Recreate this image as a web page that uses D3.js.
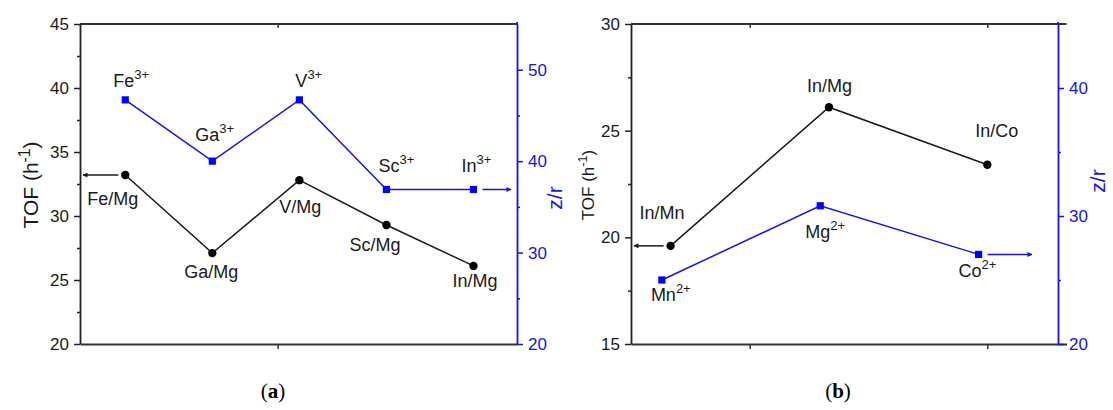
<!DOCTYPE html>
<html>
<head>
<meta charset="utf-8">
<title>TOF vs z/r</title>
<style>
  body { margin: 0; background: #fff; }
  svg text { font-family: "Liberation Sans", Arial, sans-serif; }
  .caption { font-family: "Liberation Serif", "Times New Roman", serif; }
</style>
</head>
<body>
<div id="chart"></div>
<script src="https://d3js.org/d3.v7.min.js"></script>
<script>
// ---- data: panel (a) ----
var aSamples = ["Fe/Mg", "Ga/Mg", "V/Mg", "Sc/Mg", "In/Mg"];
var aIons = ["Fe", "Ga", "V", "Sc", "In"];
var aCharge = "3+";
var aX = [1, 2, 3, 4, 5];
var aTof = [33.2, 27.1, 32.8, 29.3, 26.1];
var aZr = [46.7, 40.0, 46.7, 36.9, 36.9];
var aLeftTicks = [20, 25, 30, 35, 40, 45];
var aLeftMinor = [22.5, 27.5, 32.5, 37.5, 42.5];
var aRightTicks = [20, 30, 40, 50];
var aRightMinor = [25, 35, 45];
var aXTicks = [2.75];

// ---- data: panel (b) ----
var bSamples = ["In/Mn", "In/Mg", "In/Co"];
var bIons = ["Mn", "Mg", "Co"];
var bCharge = "2+";
var bX = [1, 2, 3];
var bZrX = [0.945, 1.945, 2.945];
var bTof = [19.6, 26.1, 23.4];
var bZr = [25.0, 30.8, 27.0];
var bLeftTicks = [15, 20, 25, 30];
var bLeftMinor = [17.5, 22.5, 27.5];
var bRightTicks = [20, 30, 40];
var bRightMinor = [25, 35];
var bXTicks = [1.5, 3];

var BLUE = "#1414e6";
var INK = "#1a1a1a";

var svg = d3.select("#chart").append("svg")
    .attr("width", 1113)
    .attr("height", 410);

// arrow heads
var defs = svg.append("defs");
[["arrBlack", INK], ["arrBlue", BLUE]].forEach(function (m) {
    defs.append("marker")
        .attr("id", m[0])
        .attr("viewBox", "0 0 10 10")
        .attr("refX", 9).attr("refY", 5)
        .attr("markerWidth", 8).attr("markerHeight", 5)
        .attr("markerUnits", "userSpaceOnUse")
        .attr("orient", "auto")
        .append("path")
        .attr("d", "M0,0 L10,5 L0,10 Z")
        .attr("fill", m[1]);
});

function addIon(text, base, charge) {
    text.append("tspan").text(base);
    text.append("tspan").attr("dy", -8).attr("font-size", 13).text(charge);
}

function drawPanel(p) {
    var g = svg.append("g");
    var x = d3.scaleLinear().domain(p.xDomain).range([p.left, p.frameRight]);
    var y = d3.scaleLinear().domain(p.yDomain).range([344, 24]);
    var y2 = d3.scaleLinear().domain(p.y2Domain).range([344, 24]);

    // top frame line
    g.append("line")
        .attr("x1", p.left).attr("x2", p.frameRight)
        .attr("y1", 24).attr("y2", 24)
        .attr("stroke", "#333").attr("stroke-width", 1.8);

    // top ticks (inward)
    g.append("g").attr("transform", "translate(0,24)")
        .call(d3.axisTop(x).tickValues(p.xTicks).tickSize(-4).tickSizeOuter(0).tickFormat(""))
        .call(function (s) { s.select(".domain").remove(); s.selectAll("line").attr("stroke", "#333").attr("stroke-width", 1.5); });

    // bottom axis
    g.append("g").attr("transform", "translate(0,344)")
        .call(d3.axisBottom(x).tickValues(p.xTicks).tickSize(5).tickSizeOuter(0).tickFormat(""))
        .call(function (s) {
            s.select(".domain").attr("stroke", "#333").attr("stroke-width", 1.8);
            s.selectAll("line").attr("stroke", "#333").attr("stroke-width", 1.5);
        });

    // left axis
    var la = g.append("g").attr("transform", "translate(" + p.left + ",0)");
    la.call(d3.axisLeft(y).tickValues(p.leftTicks).tickSize(6).tickPadding(5).tickSizeOuter(0).tickFormat(d3.format("d")));
    la.select(".domain").attr("stroke", "#222").attr("stroke-width", 1.8);
    la.selectAll(".tick line").attr("stroke", "#222").attr("stroke-width", 1.5);
    la.selectAll("text").attr("font-size", 17).attr("fill", INK);
    g.append("g").attr("transform", "translate(" + p.left + ",0)")
        .call(d3.axisLeft(y).tickValues(p.leftMinor).tickSize(3).tickFormat(""))
        .call(function (s) { s.select(".domain").remove(); s.selectAll("line").attr("stroke", "#222").attr("stroke-width", 1.5); });

    // right axis (blue)
    var ra = g.append("g").attr("transform", "translate(" + p.rightAxis + ",0)");
    ra.call(d3.axisRight(y2).tickValues(p.rightTicks).tickSize(6).tickPadding(5).tickSizeOuter(0).tickFormat(d3.format("d")));
    ra.select(".domain").attr("stroke", BLUE).attr("stroke-width", 1.8);
    ra.selectAll(".tick line").attr("stroke", BLUE).attr("stroke-width", 1.5);
    ra.selectAll("text").attr("font-size", 17).attr("fill", BLUE);
    g.append("g").attr("transform", "translate(" + p.rightAxis + ",0)")
        .call(d3.axisRight(y2).tickValues(p.rightMinor).tickSize(3).tickFormat(""))
        .call(function (s) { s.select(".domain").remove(); s.selectAll("line").attr("stroke", BLUE).attr("stroke-width", 1.5); });
    g.append("line")
        .attr("x1", p.rightAxis).attr("x2", p.rightAxis)
        .attr("y1", 22).attr("y2", 25)
        .attr("stroke", BLUE).attr("stroke-width", 1.8);

    // axis titles
    var tl = g.append("text")
        .attr("transform", "translate(" + p.leftTitleX + ",185) rotate(-90)")
        .attr("text-anchor", "middle")
        .attr("font-size", p.leftTitleSize)
        .attr("fill", INK);
    tl.append("tspan").text("TOF (h");
    tl.append("tspan").attr("dy", -p.leftTitleSize * 0.4).attr("font-size", p.leftTitleSize * 0.75).text("-1");
    tl.append("tspan").attr("dy", p.leftTitleSize * 0.4).text(")");

    g.append("text")
        .attr("transform", "translate(" + p.rightTitleX + "," + p.rightTitleY + ") rotate(-90)")
        .attr("text-anchor", "middle")
        .attr("font-size", 21)
        .attr("fill", BLUE)
        .text("z/r");

    // TOF line (black, circles)
    var tofPts = p.x.map(function (d, i) { return [x(d), y(p.tof[i])]; });
    g.append("path")
        .attr("d", d3.line()(tofPts))
        .attr("fill", "none").attr("stroke", INK).attr("stroke-width", 1.5);
    g.selectAll(".dot").data(tofPts).enter().append("circle")
        .attr("cx", function (d) { return d[0]; })
        .attr("cy", function (d) { return d[1]; })
        .attr("r", 4.2).attr("fill", "#000");

    // z/r line (blue, squares)
    var zrPts = p.zrX.map(function (d, i) { return [x(d), y2(p.zr[i])]; });
    g.append("path")
        .attr("d", d3.line()(zrPts))
        .attr("fill", "none").attr("stroke", BLUE).attr("stroke-width", 1.5);
    g.selectAll(".sq").data(zrPts).enter().append("rect")
        .attr("x", function (d) { return d[0] - 3.6; })
        .attr("y", function (d) { return d[1] - 3.6; })
        .attr("width", 7.2).attr("height", 7.2).attr("fill", "#0000ff");

    // point labels
    p.samples.forEach(function (s, i) {
        g.append("text")
            .attr("x", tofPts[i][0] + p.sampleOff[i][0])
            .attr("y", tofPts[i][1] + p.sampleOff[i][1])
            .attr("font-size", 18).attr("fill", INK)
            .text(s);
    });
    p.ions.forEach(function (s, i) {
        var t = g.append("text")
            .attr("x", zrPts[i][0] + p.ionOff[i][0])
            .attr("y", zrPts[i][1] + p.ionOff[i][1])
            .attr("font-size", 18).attr("fill", INK);
        addIon(t, s, p.charge);
    });

    // arrows pointing at each axis
    var a0 = tofPts[0];
    g.append("line")
        .attr("x1", a0[0] - 7).attr("y1", a0[1])
        .attr("x2", p.left + 3).attr("y2", a0[1])
        .attr("stroke", INK).attr("stroke-width", 1.5)
        .attr("marker-end", "url(#arrBlack)");
    var a1 = zrPts[zrPts.length - 1];
    g.append("line")
        .attr("x1", a1[0] + 9).attr("y1", a1[1])
        .attr("x2", p.blueArrowEnd).attr("y2", a1[1])
        .attr("stroke", BLUE).attr("stroke-width", 1.5)
        .attr("marker-end", "url(#arrBlue)");

    // caption
    var c = g.append("text")
        .attr("class", "caption")
        .attr("x", p.captionX).attr("y", 398)
        .attr("text-anchor", "middle")
        .attr("font-size", 21).attr("fill", "#000");
    c.append("tspan").text("(");
    c.append("tspan").attr("font-weight", "bold").text(p.caption);
    c.append("tspan").text(")");
}

drawPanel({
    xDomain: [0.48, 5.5], left: 80, frameRight: 517, rightAxis: 517,
    yDomain: [20, 45], y2Domain: [20, 55],
    x: aX, zrX: aX, tof: aTof, zr: aZr,
    samples: aSamples, ions: aIons, charge: aCharge,
    leftTicks: aLeftTicks, leftMinor: aLeftMinor,
    rightTicks: aRightTicks, rightMinor: aRightMinor, xTicks: aXTicks,
    leftTitleX: 38, leftTitleSize: 21, rightTitleX: 562, rightTitleY: 198,
    sampleOff: [[-38, 30], [-28, 25], [-20, 33], [-37, 26], [-21, 21]],
    ionOff: [[-12, -13], [-17, -20], [-4, -13], [-8, -17], [-12, -17]],
    blueArrowEnd: 511, captionX: 273, caption: "a"
});

drawPanel({
    xDomain: [0.75, 3.5], left: 631, frameRight: 1066.5, rightAxis: 1058,
    yDomain: [15, 30], y2Domain: [20, 45],
    x: bX, zrX: bZrX, tof: bTof, zr: bZr,
    samples: bSamples, ions: bIons, charge: bCharge,
    leftTitleX: 594, leftTitleSize: 17, rightTitleX: 1105, rightTitleY: 181,
    leftTicks: bLeftTicks, leftMinor: bLeftMinor,
    rightTicks: bRightTicks, rightMinor: bRightMinor, xTicks: bXTicks,
    sampleOff: [[-31, -27], [-22, -15], [-12, -28]],
    ionOff: [[-11, 21], [-15, 32], [-20, 23]],
    blueArrowEnd: 1032, captionX: 838, caption: "b"
});
</script>
</body>
</html>
